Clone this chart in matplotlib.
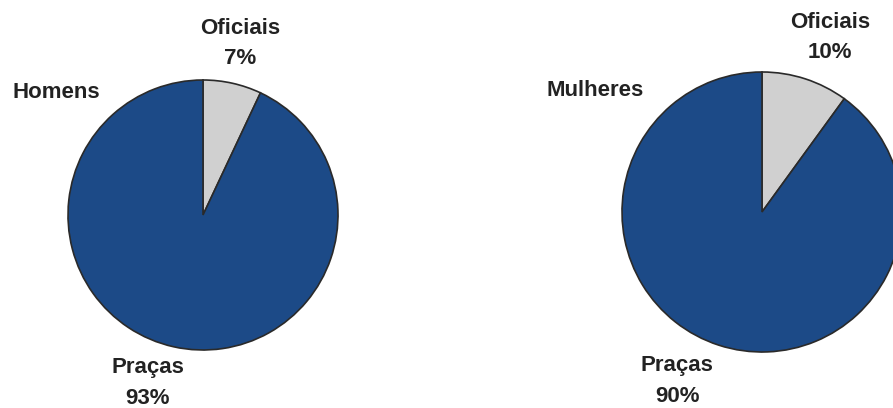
import matplotlib.pyplot as plt

categorias = ["Oficiais", "Praças"]
homens = [7, 93]
mulheres = [10, 90]
titulos = ["Homens", "Mulheres"]
cores = ["#d0d0d0", "#1c4a87"]

plt.rcParams['font.family'] = ['Liberation Sans', 'DejaVu Sans']

W, H = 893, 408
fig = plt.figure(figsize=(W / 100, H / 100), dpi=100)
ax = fig.add_axes([0, 0, 1, 1])

# posicoes em pixels (y a partir do topo): centro, raio, titulo, rotulos
pies = [
    (homens, (203, 215), 135, (12, 93), (240, 28), (148, 368)),
    (mulheres, (762, 212), 140, (546, 91), (830, 22), (677, 366)),
]

txt = dict(fontsize=16, fontweight='bold', color='#222222')

for i, (vals, c, r, tpos, opos, ppos) in enumerate(pies):
    ax.pie(vals, colors=cores, startangle=90, counterclock=False,
           center=(c[0], H - c[1]), radius=r, frame=True,
           wedgeprops=dict(edgecolor='#2a2a2a', linewidth=1.2))
    ax.text(tpos[0], H - tpos[1], titulos[i], ha='left', va='center', **txt)
    ax.text(opos[0], H - opos[1], categorias[0], ha='center', va='center', **txt)
    ax.text(opos[0], H - opos[1] - 31, f"{vals[0]}%", ha='center', va='center', **txt)
    ax.text(ppos[0], H - ppos[1], categorias[1], ha='center', va='center', **txt)
    ax.text(ppos[0], H - ppos[1] - 30, f"{vals[1]}%", ha='center', va='center', **txt)

ax.set_xlim(0, W)
ax.set_ylim(0, H)
ax.set_aspect('equal')
ax.axis('off')

fig.savefig('out.png', dpi=100)
